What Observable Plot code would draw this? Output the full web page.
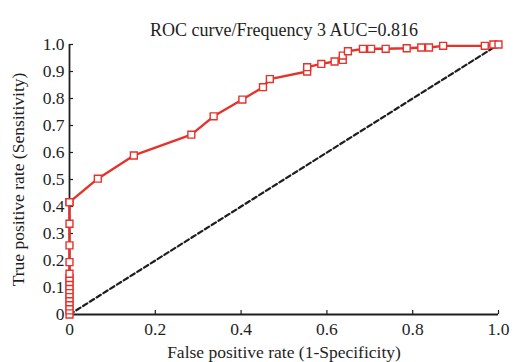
<!DOCTYPE html>
<html>
<head>
<meta charset="utf-8">
<script src="https://cdn.jsdelivr.net/npm/d3@7"></script>
<script src="https://cdn.jsdelivr.net/npm/@observablehq/plot@0.6"></script>
<style>
  html, body { margin: 0; padding: 0; background: #fff; }
</style>
</head>
<body>
<div id="chart"></div>
<script>
// ROC operating points (false positive rate, true positive rate)
const fpr = [0, 0, 0, 0, 0, 0, 0, 0, 0, 0, 0, 0, 0, 0, 0, 0,
  0.066, 0.150, 0.284, 0.336, 0.403, 0.451, 0.467, 0.554, 0.554, 0.587, 0.618,
  0.637, 0.637, 0.649, 0.684, 0.703, 0.737, 0.786, 0.820, 0.838, 0.871, 0.968, 0.988, 1.0];
const tpr = [0, 0.015, 0.03, 0.045, 0.06, 0.075, 0.09, 0.105, 0.12, 0.135, 0.151, 0.194, 0.256, 0.336, 0.416, 0.416,
  0.503, 0.589, 0.666, 0.734, 0.796, 0.842, 0.872, 0.90, 0.916, 0.928, 0.937,
  0.943, 0.959, 0.975, 0.984, 0.984, 0.984, 0.986, 0.989, 0.989, 0.995, 0.995, 1.0, 1.0];
const chance = [0, 1];
const xTicks = [0, 0.2, 0.4, 0.6, 0.8, 1.0];
const yTicks = [0, 0.1, 0.2, 0.3, 0.4, 0.5, 0.6, 0.7, 0.8, 0.9, 1.0];
const titleText = "ROC curve/Frequency 3 AUC=0.816";

const roc = fpr.map((f, i) => ({fpr: f, tpr: tpr[i]}));
const diag = chance.map(v => ({fpr: v, tpr: v}));
const fmt = v => v === 0 ? "0" : v.toFixed(1);
const red = "#e5322b";
const ink = "#1e1e1e";

const chart = Plot.plot({
  width: 515,
  height: 362,
  marginLeft: 69,
  marginRight: 17,
  marginTop: 44,
  marginBottom: 48,
  x: {domain: [0, 1]},
  y: {domain: [0, 1]},
  style: {fontFamily: "'Liberation Serif', 'DejaVu Serif', serif", fontSize: "17.5px", color: ink, background: "#fff"},
  marks: [
    Plot.axisX({ticks: xTicks, tickFormat: fmt, tickSize: -4, tickPadding: 12, strokeWidth: 1.2,
      label: "False positive rate (1-Specificity)", labelAnchor: "center", labelArrow: "none", labelOffset: 43,
      fontSize: 17.5}),
    Plot.axisY({ticks: yTicks, tickFormat: fmt, tickSize: -4, tickPadding: 9, strokeWidth: 1.2,
      label: "True positive rate (Sensitivity)", labelAnchor: "center", labelArrow: "none", labelOffset: 58,
      fontSize: 17.5}),
    Plot.ruleY([0], {stroke: ink, strokeWidth: 1.8}),
    Plot.ruleX([0], {stroke: ink, strokeWidth: 1.8}),
    Plot.line(diag, {x: "fpr", y: "tpr", stroke: ink, strokeWidth: 2.2, strokeDasharray: "5,3"}),
    Plot.line(roc, {x: "fpr", y: "tpr", stroke: red, strokeWidth: 2.4}),
    Plot.dot(roc, {x: "fpr", y: "tpr", symbol: "square", r: 3.9, stroke: red, strokeWidth: 1.4, fill: "#fff"}),
    Plot.text([titleText], {frameAnchor: "top", dy: -21, fontSize: 18, fill: ink})
  ]
});
document.getElementById("chart").appendChild(chart);
</script>
</body>
</html>
